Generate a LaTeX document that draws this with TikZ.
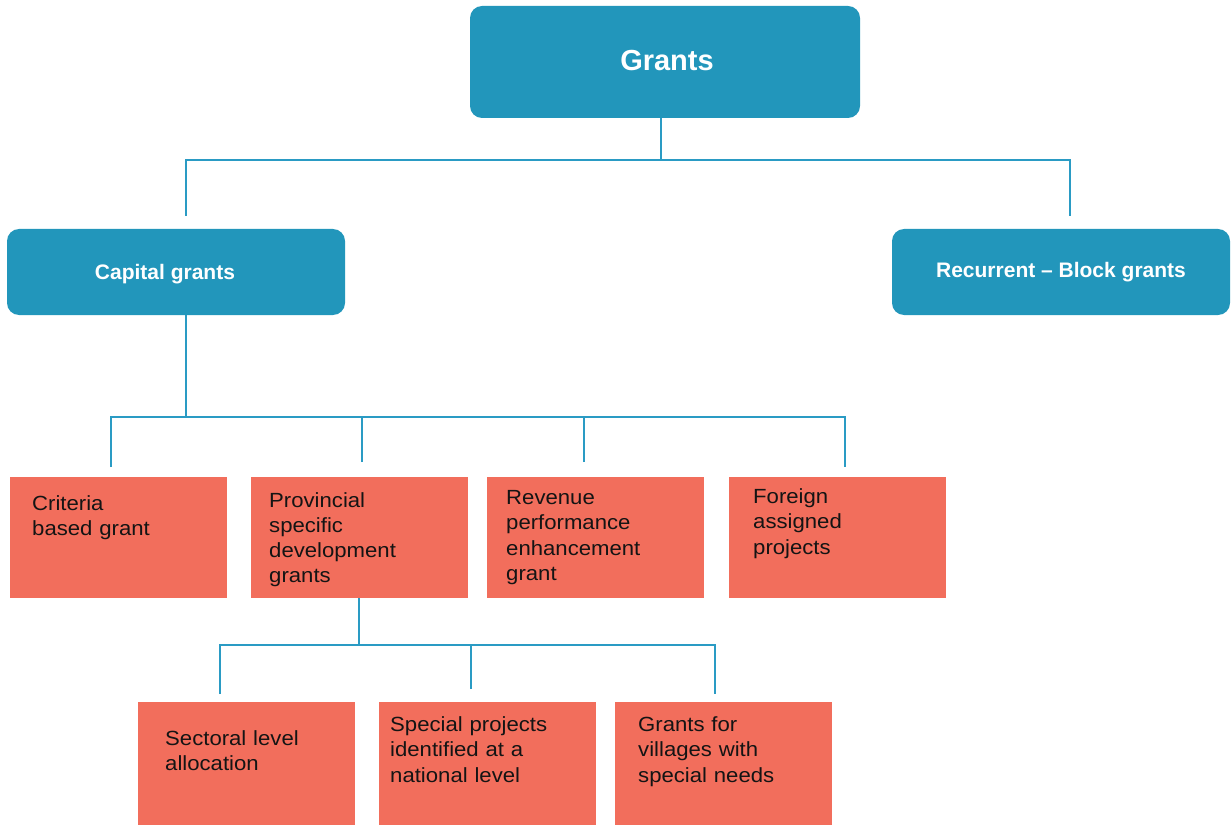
\documentclass[tikz,border=0pt]{standalone}
\usepackage{fontspec}
\setmainfont{Liberation Sans}
\newfontfamily\boxfont[FakeStretch=1.08]{Liberation Sans}
\definecolor{boxblue}{RGB}{34,150,187}
\definecolor{lineblue}{RGB}{42,155,196}
\definecolor{boxred}{RGB}{242,110,92}
\definecolor{txt}{RGB}{20,20,20}
\tikzset{
  bluebox/.style={fill=boxblue, draw=none, rounded corners=12pt, inner sep=0pt},
  redbox/.style={fill=boxred, draw=none, inner sep=0pt},
  btitle/.style={text=white, font=\bfseries\fontsize{21}{25}\selectfont, inner sep=0pt},
  rtext/.style={text=txt, anchor=base west, inner sep=0pt, text width=200pt, align=left,
                font=\boxfont\fontsize{20.5}{25.3}\selectfont},
  conn/.style={draw=lineblue, line width=2pt}
}
\begin{document}
\begin{tikzpicture}[x=1pt, y=-1pt]
\useasboundingbox (0,0) rectangle (1231,826);
% top level
\path[bluebox] (470,6) rectangle (860,118);
\node[btitle, font=\bfseries\fontsize{29}{34}\selectfont] (grants) at (667,61) {Grants};
\path[bluebox] (7,229) rectangle (345,315);
\node[btitle] (capital) at (165,274) {Capital grants};
\path[bluebox] (892,229) rectangle (1230,315);
\node[btitle] (recurrent) at (1061,272) {Recurrent – Block grants};
% connectors level 1
\coordinate (g0) at (661,118);
\coordinate (g1) at (661,160);
\coordinate (gL) at (186,160);
\coordinate (gR) at (1070,160);
\coordinate (cL) at (186,216);
\coordinate (cR) at (1070,216);
\draw[conn] (g0) -- (g1);
\draw[conn] (cL) -- (gL) -- (gR) -- (cR);
% connectors level 2
\coordinate (c0) at (186,315);
\coordinate (c1) at (186,417);
\coordinate (hL) at (111,417);
\coordinate (hR) at (845,417);
\coordinate (d1) at (111,467);
\coordinate (d2) at (362,462);
\coordinate (d3) at (584,462);
\coordinate (d4) at (845,467);
\draw[conn] (c0) -- (c1);
\draw[conn] (d1) -- (hL) -- (hR) -- (d4);
\draw[conn] (d2) -- (d2 |- hL);
\draw[conn] (d3) -- (d3 |- hL);
% level 2 boxes
\path[redbox] (10,477) rectangle (227,598);
\node[rtext] (criteria) at (32,510.5) {Criteria\\based grant};
\path[redbox] (251,477) rectangle (468,598);
\node[rtext] (provincial) at (269,507) {Provincial\\specific\\development\\grants};
\path[redbox] (487,477) rectangle (704,598);
\node[rtext] (revenue) at (506,504.5) {Revenue\\performance\\enhancement\\grant};
\path[redbox] (729,477) rectangle (946,598);
\node[rtext] (foreign) at (753,503.5) {Foreign\\assigned\\projects};
% connectors level 3
\coordinate (p0) at (359,598);
\coordinate (p1) at (359,645);
\coordinate (qL) at (220,645);
\coordinate (qR) at (715,645);
\coordinate (e1) at (220,694);
\coordinate (e2) at (471,689);
\coordinate (e3) at (715,694);
\draw[conn] (p0) -- (p1);
\draw[conn] (e1) -- (qL) -- (qR) -- (e3);
\draw[conn] (e2) -- (e2 |- qL);
% level 3 boxes
\path[redbox] (138,702) rectangle (355,825);
\node[rtext] (sectoral) at (165,745) {Sectoral level\\allocation};
\path[redbox] (379,702) rectangle (596,825);
\node[rtext] (special) at (390,731.5) {Special projects\\identified at a\\national level};
\path[redbox] (615,702) rectangle (832,825);
\node[rtext] (villages) at (638,731.5) {Grants for\\villages with\\special needs};
\end{tikzpicture}
\end{document}
